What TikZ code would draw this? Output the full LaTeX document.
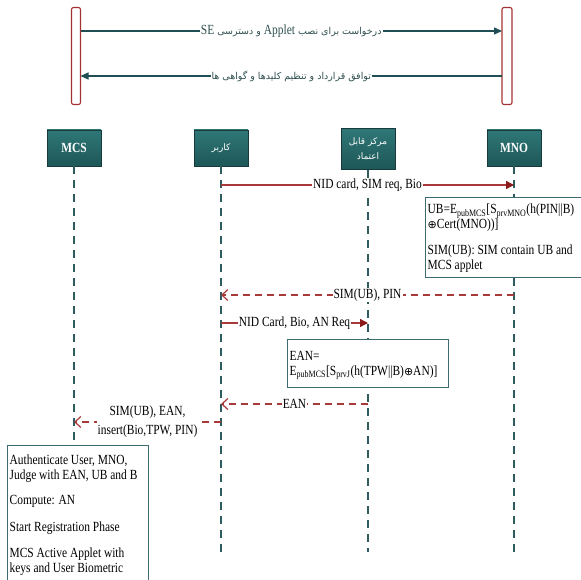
\documentclass[tikz,border=0pt]{standalone}
\usepackage{fontspec}
\setmainfont{Liberation Serif}[FakeStretch=0.82]
\newfontfamily\arabicfont[Script=Arabic]{DejaVu Sans}
\newfontfamily\symfont{DejaVu Sans}
\newcommand{\xorsym}{{\symfont\fontsize{11}{11}\selectfont ⊕}}
\TeXXeTstate=1
\usetikzlibrary{arrows.meta}
\definecolor{topline}{HTML}{1F4F55}
\definecolor{lifec}{HTML}{2E5B60}
\definecolor{msgred}{HTML}{A83A3A}
\definecolor{tipred}{HTML}{8B1A1A}
\definecolor{barred}{HTML}{A33333}
\definecolor{hdtop}{HTML}{2F7777}
\definecolor{hdbot}{HTML}{1E5757}
\definecolor{hdborder}{HTML}{183A3D}
\definecolor{notec}{HTML}{3D6B70}
\definecolor{toptext}{HTML}{2F4F4F}
\tikzset{
  hdr/.style={draw=hdborder, line width=0.8bp, top color=hdtop, bottom color=hdbot, text=white, inner sep=1bp, align=center, minimum width=54bp, minimum height=36bp},
  hdrlat/.style={hdr, font=\fontsize{14}{16}\selectfont\bfseries},
  hdrfa/.style={hdr, font=\arabicfont\fontsize{9}{15}\selectfont},
  bar/.style={draw=barred, line width=1.1bp, fill=white, rounded corners=2bp, minimum width=9bp, minimum height=97bp, inner sep=0pt},
  life/.style={draw=lifec, line width=1.1bp, dash pattern=on 8bp off 6bp},
  toparr/.style={draw=topline, line width=1.2bp, -{Triangle[length=8bp,width=7bp]}},
  msg/.style={draw=msgred, line width=1.3bp, -{Triangle[length=8bp,width=8bp,fill=tipred,color=tipred]}},
  ret/.style={draw=msgred, line width=1.3bp, dash pattern=on 7bp off 5bp, -{Straight Barb[length=6bp,width=11bp,line width=1.2bp]}},
  lbl/.style={fill=white, inner sep=1bp, font=\fontsize{14}{15}\selectfont},
  toplbl/.style={fill=white, inner sep=1bp, text=toptext, font=\arabicfont\fontsize{9.5}{12}\selectfont},
  notebox/.style={draw=notec, line width=1bp, fill=white, anchor=north west, inner sep=0pt},
  notetext/.style={anchor=north west, align=left, inner xsep=2.5bp, inner ysep=3bp, font=\fontsize{14}{15}\selectfont},
}
\begin{document}
\begin{tikzpicture}[x=1bp,y=-1bp]
\useasboundingbox (0,0) rectangle (581,580);
% top bars
\node[bar] (lbar) at (76,56) {};
\node[bar, minimum width=10bp] (rbar) at (507,56) {};
\coordinate (t1a) at (80.5,31);
\coordinate (t1b) at (502,31);
\coordinate (t2a) at (502,76);
\coordinate (t2b) at (80.5,76);
\draw[toparr] (t1a) -- node[toplbl]{\beginR درخواست برای نصب \beginL{\rmfamily\fontsize{14}{15}\selectfont Applet}\endL{} و دسترسی \beginL{\rmfamily\fontsize{14}{15}\selectfont SE}\endL\endR} (t1b);
\draw[toparr] (t2a) -- node[toplbl]{\beginR توافق قرارداد و تنظیم کلیدها و گواهی ها\endR} (t2b);
% headers
\node[hdrlat] (mcs) at (74,148) {MCS};
\node[hdrfa] (usr) at (221,148) {\beginR کاربر\endR};
\node[hdrfa, minimum height=41bp] (tc) at (368,149) {\beginR مرکز قابل\endR\\\beginR اعتماد\endR};
\node[hdrlat] (mno) at (514,148) {MNO};
% lifelines
\coordinate (mcsend) at (74,442);
\coordinate (usrend) at (221,552);
\coordinate (tcend) at (368,552);
\coordinate (mnoend) at (514,552);
\draw[life] (mcs.south) -- (mcsend);
\draw[life] (usr.south) -- (usrend);
\draw[life] (tc.south) -- (tcend);
\draw[life] (mno.south) -- (mnoend);
% messages
\coordinate (m1a) at (221,185);
\coordinate (m1b) at (514,185);
\draw[msg] (m1a) -- node[lbl]{NID card, SIM req, Bio} (m1b);
\node[notebox, minimum width=162bp, minimum height=80bp] (n1) at (425,197) {};
\node[notetext, inner ysep=7bp] (n1t) at (n1.north west) {UB=E\textsubscript{pubMCS}[S\textsubscript{prvMNO}(h(PIN||B)\\\xorsym Cert(MNO))]\\[11bp]SIM(UB): SIM contain UB and\\MCS applet};
\coordinate (m2a) at (514,295);
\coordinate (m2b) at (221,295);
\draw[ret] (m2a) -- node[lbl]{SIM(UB), PIN} (m2b);
\coordinate (m3a) at (221,323);
\coordinate (m3b) at (368,323);
\draw[msg] (m3a) -- node[lbl]{NID Card, Bio, AN Req} (m3b);
\node[notebox, minimum width=161bp, minimum height=48bp] (n2) at (287,339) {};
\node[notetext, inner ysep=12bp] (n2t) at (n2.north west) {EAN=\\E\textsubscript{pubMCS}[S\textsubscript{prvJ}(h(TPW||B)\xorsym AN)]};
\coordinate (m4a) at (368,404);
\coordinate (m4b) at (221,404);
\draw[ret] (m4a) -- node[lbl]{EAN} (m4b);
\coordinate (m5a) at (221,422);
\coordinate (m5b) at (74,422);
\draw[ret] (m5a) -- node[lbl, align=center, font=\fontsize{14}{19}\selectfont]{SIM(UB), EAN,\\insert(Bio,TPW, PIN)} (m5b);
\node[notebox, minimum width=141bp, minimum height=150bp] (n3) at (7,445) {};
\node[notetext, inner ysep=10bp] (n3t) at (n3.north west) {Authenticate User, MNO,\\Judge with EAN, UB and B\\[10bp]Compute: AN\\[12bp]Start Registration Phase\\[11bp]MCS Active Applet with\\keys and User Biometric};
\end{tikzpicture}
\end{document}
